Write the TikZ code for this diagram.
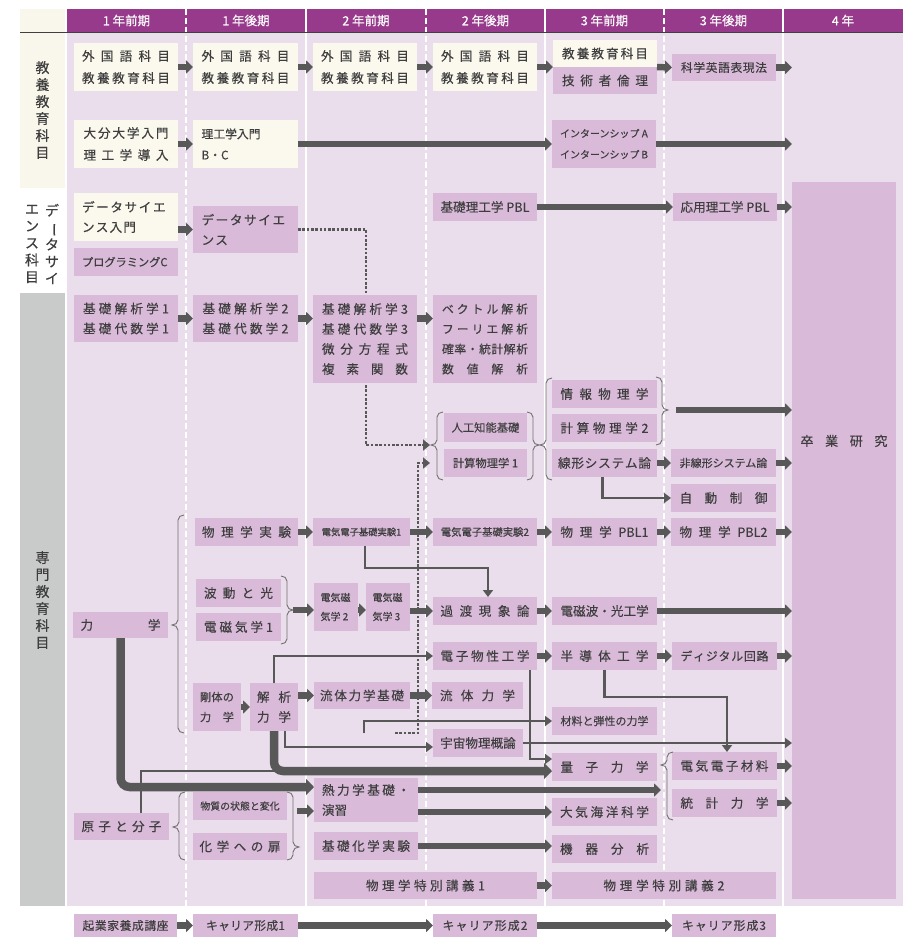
\documentclass[tikz,border=0pt]{standalone}
\usepackage{fontspec}
\setmainfont{Noto Sans CJK JP}[FakeBold=0.35]
\usetikzlibrary{arrows.meta}
\pgfdeclarelayer{back}
\pgfsetlayers{back,main}

\definecolor{hdr}{RGB}{152,58,140}
\definecolor{lav}{RGB}{234,221,236}
\definecolor{mauve}{RGB}{217,187,217}
\definecolor{cream}{RGB}{251,248,238}
\definecolor{labbeige}{RGB}{249,246,236}
\definecolor{labgray}{RGB}{201,202,202}
\definecolor{arr}{RGB}{88,88,88}
\definecolor{txt}{RGB}{62,62,62}

\ExplSyntaxOn
% spread the characters of #2 evenly over a box of width #1
\NewDocumentCommand\spreadto{m m}{
  \hbox_to_wd:nn {#1}{
    \bool_set_true:N \l_tmpa_bool
    \tl_map_inline:nn {#2}{
      \bool_if:NF \l_tmpa_bool {\hfil}
      \bool_set_false:N \l_tmpa_bool
      ##1
    }
  }
}
% characters of #2 with a fixed extra gap #1 between them
\NewDocumentCommand\tracked{O{2pt} m}{
  \bool_set_true:N \l_tmpa_bool
  \tl_map_inline:nn {#2}{
    \bool_if:NF \l_tmpa_bool {\kern #1}
    \bool_set_false:N \l_tmpa_bool
    ##1
  }
}
\ExplSyntaxOff
% a left-aligned line of fixed width
\newcommand\lftline[2]{\hbox to #1{#2\hfil}}

% course box: [style]{name}{x1}{y1}{x2}{y2}{text}
\newcommand\course[7][]{%
  \node[box,#1,minimum width={(#5-#3)*1pt},minimum height={(#6-#4)*1pt}]
    (#2) at ({(#3+#5)/2},{(#4+#6)/2}) {#7};}

% curly braces: {x of body}{top}{tip}{bottom}
\newcommand\BrL[4]{\draw[brc] (#1+6,#2) to[out=180,in=90] (#1,#2+5) -- (#1,#3-5)
  to[out=-90,in=0] (#1-6,#3) to[out=0,in=90] (#1,#3+5) -- (#1,#4-5)
  to[out=-90,in=180] (#1+6,#4);}
\newcommand\BrR[4]{\draw[brc] (#1-6,#2) to[out=0,in=90] (#1,#2+5) -- (#1,#3-5)
  to[out=-90,in=180] (#1+6,#3) to[out=180,in=90] (#1,#3+5) -- (#1,#4-5)
  to[out=-90,in=0] (#1-6,#4);}

\tikzset{
  fs/.style={font=\fontsize{#1}{20}\selectfont},
  fs2/.style 2 args={font=\fontsize{#1}{#2}\selectfont},
  box/.style={fill=mauve, inner sep=0pt, outer sep=0pt, text=txt, align=center, fs=12.6},
  cb/.style={fill=cream},
  lab/.style={font=\fontsize{14}{17}\selectfont, text=txt, align=center, inner sep=0pt},
  hd/.style={font=\fontsize{12.5}{14}\selectfont, text=white, inner sep=0pt},
  blk/.style={draw=arr, line width=6.5pt, -{Triangle[length=7pt,width=13pt]}},
  thk/.style={draw=arr, line width=8.5pt, rounded corners=9pt, -{Triangle[length=8pt,width=16pt]}},
  tline/.style={draw=arr, line width=2.6pt, -{Triangle[length=7pt,width=10pt]}},
  tplain/.style={draw=arr, line width=2.6pt},
  dotline/.style={draw=arr, line width=2.6pt, dash pattern=on 2.6pt off 1.7pt, -{Triangle[length=7pt,width=11pt]}},
  brc/.style={draw=arr!85, line width=0.9pt},
}

\begin{document}
\begin{tikzpicture}[x=1pt,y=-1pt]
\useasboundingbox (0,0) rectangle (921,938);

% ---- column headers
\node[hd] (h1) at (126.5,20.5) {1 年前期};
\node[hd] (h2) at (246,20.5) {1 年後期};
\node[hd] (h3) at (366,20.5) {2 年前期};
\node[hd] (h4) at (485.5,20.5) {2 年後期};
\node[hd] (h5) at (604.5,20.5) {3 年前期};
\node[hd] (h6) at (723.5,20.5) {3 年後期};
\node[hd] (h7) at (843,20.5) {4 年};

% ---- category labels
\node[lab] (labA) at (42.5,110) {教\\養\\教\\育\\科\\目};
\node[lab] (labB1) at (52,244) {デ\\\rotatebox[origin=c]{-90}{ー}\\タ\\サ\\イ};
\node[lab] (labB2) at (32,244) {エ\\ン\\ス\\科\\目};
\node[lab] (labC) at (42.5,600) {専\\門\\教\\育\\科\\目};

% ---- general education
\course[cb,fs2={12.6}{22}]{k1}{74}{43}{178}{91}{\spreadto{88pt}{外国語科目}\\\spreadto{88pt}{教養教育科目}}
\course[cb,fs2={12.6}{22}]{k2}{193}{43}{298}{91}{\spreadto{88pt}{外国語科目}\\\spreadto{88pt}{教養教育科目}}
\course[cb,fs2={12.6}{22}]{k3}{313}{43}{417}{91}{\spreadto{88pt}{外国語科目}\\\spreadto{88pt}{教養教育科目}}
\course[cb,fs2={12.6}{22}]{k4}{433}{43}{537}{91}{\spreadto{88pt}{外国語科目}\\\spreadto{88pt}{教養教育科目}}
\course[cb]{k5a}{553}{40}{657}{67}{\spreadto{86pt}{教養教育科目}}
\course{k5b}{553}{67}{657}{94}{\spreadto{86pt}{技術者倫理}}
\course[fs=11.8]{eigo}{672}{54}{776}{81}{\spreadto{86pt}{科学英語表現法}}

\course[cb,fs2={12.6}{22}]{r1}{74}{120}{178}{168}{\spreadto{85pt}{大分大学入門}\\\spreadto{85pt}{理工学導入}}
\course[cb,fs2={11.8}{21}]{r2}{193}{120}{298}{168}{\lftline{88pt}{理工学入門}\\\lftline{88pt}{B・C}}
\course[fs2={10}{21}]{intern}{552}{120}{656}{168}{\lftline{88pt}{インターンシップ A}\\\lftline{88pt}{インターンシップ B}}

% ---- data science
\course[cb,fs2={12.6}{20}]{ds1}{74}{193}{178}{241}{\lftline{88pt}{\tracked[1.6pt]{データサイエ}}\\\lftline{88pt}{\tracked[1.2pt]{ンス入門}}}
\course[fs=11.2]{prog}{74}{248}{178}{276}{\lftline{88pt}{プログラミングC}}
\course[fs2={12.6}{20}]{ds2}{193}{206}{298}{253}{\lftline{88pt}{\tracked[1.6pt]{データサイエ}}\\\lftline{88pt}{\tracked[1.2pt]{ンス}}}
\course{pbl0}{433}{193}{537}{221}{基礎理工学 PBL}
\course{pbl3}{673}{193}{777}{221}{応用理工学 PBL}
\course{sotsu}{792}{182}{896}{899}{}
\node[fs=13, text=txt, inner sep=0pt] (sotsuT) at (844,441) {\spreadto{87pt}{卒業研究}};

% ---- mathematics
\course{m1}{74}{295}{178}{342}{\spreadto{86pt}{基礎解析学1}\\\spreadto{86pt}{基礎代数学1}}
\course{m2}{193}{295}{298}{342}{\spreadto{86pt}{基礎解析学2}\\\spreadto{86pt}{基礎代数学2}}
\course{m3}{313}{295}{417}{383}{\spreadto{86pt}{基礎解析学3}\\\spreadto{86pt}{基礎代数学3}\\\spreadto{86pt}{微分方程式}\\\spreadto{86pt}{複素関数}}
\course[fs=11.8]{m4}{433}{295}{537}{383}{\spreadto{86pt}{ベクトル解析}\\\spreadto{86pt}{フーリエ解析}\\\spreadto{86pt}{確率・統計解析}\\\spreadto{86pt}{数値解析}}

\course[fs=11.3]{ai}{444}{413}{527}{442}{人工知能基礎}
\course[fs=11.3]{cp1}{444}{449}{527}{477}{計算物理学 1}
\course{info}{552}{380}{657}{408}{\spreadto{88pt}{情報物理学}}
\course{cp2}{552}{414}{657}{442}{\spreadto{88pt}{計算物理学2}}
\course{senkei}{552}{449}{657}{477}{\spreadto{93pt}{線形システム論}}
\course[fs=11]{hisen}{671}{449}{776}{477}{非線形システム論}
\course{jido}{671}{484}{776}{512}{\spreadto{88pt}{自動制御}}

% ---- physics and electronics
\course{jikken}{195}{518}{298}{546}{\spreadto{89pt}{物理学実験}}
\course[fs=9.3]{dk1}{313}{518}{410}{546}{電気電子基礎実験1}
\course[fs=10.3]{dk2}{433}{518}{537}{546}{電気電子基礎実験2}
\course{pb1}{552}{518}{657}{546}{\spreadto{88pt}{物理学{PBL1}}}
\course{pb2}{671}{518}{776}{546}{\spreadto{88pt}{物理学{PBL2}}}

\course{hado}{196}{579}{281}{607}{\spreadto{69pt}{波動と光}}
\course{em1}{196}{613}{281}{641}{\spreadto{69pt}{電磁気学1}}
\course[fs2={10}{19}]{em2}{314}{583}{358}{631}{\lftline{31pt}{電気磁}\\\lftline{31pt}{気学 2}}
\course[fs2={10}{19}]{em3}{366}{583}{410}{631}{\lftline{31pt}{電気磁}\\\lftline{31pt}{気学 3}}
\course{kato}{433}{597}{537}{625}{\spreadto{89pt}{過渡現象論}}
\course{denjiha}{552}{597}{657}{625}{\spreadto{88pt}{電磁波・光工学}}
\course{riki}{73}{612}{168}{638}{\spreadto{80pt}{力学}}

\course[fs2={11.2}{20}]{goutai}{193}{683}{241}{731}{\spreadto{34pt}{剛体の}\\\spreadto{34pt}{力学}}
\course[fs2={12.6}{20}]{kaiseki}{250}{683}{298}{731}{\spreadto{34pt}{解析}\\\spreadto{34pt}{力学}}
\course{ryuk}{314}{682}{410}{709}{\spreadto{84pt}{流体力学基礎}}
\course{ryutai}{432}{682}{523}{709}{\spreadto{75pt}{流体力学}}
\course{denshi}{433}{642}{537}{670}{\spreadto{89pt}{電子物性工学}}
\course{handou}{552}{642}{657}{670}{\spreadto{88pt}{半導体工学}}
\course[fs=11.8]{digital}{672}{642}{777}{670}{\spreadto{88pt}{ディジタル回路}}
\course[fs=11]{zairyo}{552}{707}{657}{735}{材料と弾性の力学}
\course{uchu}{433}{729}{523}{757}{宇宙物理概論}
\course{ryoshi}{552}{753}{657}{781}{\spreadto{88pt}{量子力学}}

\course{netsu}{314}{778}{418}{822}{\spreadto{88pt}{熱力学基礎・}\\\lftline{88pt}{演習}}
\course{taiki}{552}{798}{657}{826}{\spreadto{89pt}{大気海洋科学}}
\course{kiki}{552}{835}{657}{863}{\spreadto{89pt}{機器分析}}
\course{emat}{672}{752}{777}{780}{\spreadto{88pt}{電気電子材料}}
\course{toukei}{672}{789}{777}{817}{\spreadto{88pt}{統計力学}}
\course{genshi}{74}{813}{169}{840}{\spreadto{80pt}{原子と分子}}
\course[fs=9.9]{busshitsu}{193}{792}{287}{820}{物質の状態と変化}
\course{kagaku}{193}{833}{287}{860}{\spreadto{81pt}{化学への扉}}
\course{kiso}{314}{832}{418}{860}{\spreadto{88pt}{基礎化学実験}}
\course{tk1}{314}{872}{537}{899}{\spreadto{119pt}{物理学特別講義1}}
\course{tk2}{552}{872}{776}{899}{\spreadto{121pt}{物理学特別講義2}}

% ---- career courses
\course[fs=11.8]{kigyo}{74}{914}{177}{937}{\spreadto{86pt}{起業家養成講座}}
\course[fs=11.8]{c1}{193}{914}{298}{937}{\spreadto{79pt}{キャリア形成1}}
\course[fs=11.8]{c2}{433}{914}{537}{937}{\spreadto{85pt}{キャリア形成2}}
\course[fs=11.8]{c3}{672}{914}{776}{937}{\spreadto{84pt}{キャリア形成3}}

% ---- connector end points
\coordinate (aiTip) at (430,445);
\coordinate (cpTip) at (430,463);
\coordinate (d2s) at (395,733);
\coordinate (grpR) at (676,410);
\coordinate (emR) at (293,610);
\coordinate (chemR) at (297,811);
\coordinate (br7in) at (661,790);
\coordinate (zs) at (364,733);
\coordinate (jn) at (274,771);

% ---- braces
\BrL{178}{515}{625}{733}
\BrR{287}{576}{610}{644}
\BrL{437}{412}{445}{480}
\BrR{533}{412}{445}{480}
\BrL{546}{378}{445}{480}
\BrR{662}{377}{410}{445}
\BrL{667}{752}{765}{820}
\BrL{179}{792}{827}{860}
\BrR{293}{792}{847}{860}

% ---- connectors
\draw[blk] (k1.east) -- (k2.west);
\draw[blk] (k2.east) -- (k3.west);
\draw[blk] (k3.east) -- (k4.west);
\draw[blk] (k4.east) -- (k5a.south west);
\draw[blk] (k5a.south east) -- (eigo.west);
\draw[blk] (eigo.east) -- (eigo.east -| sotsu.west);
\draw[blk] (r1.east) -- (r2.west);
\draw[blk] (r2.east) -- (intern.west);
\draw[blk] (intern.east) -- (intern.east -| sotsu.west);
\draw[blk] (ds1.east |- ds2.west) -- (ds2.west);
\draw[blk] (pbl0.east) -- (pbl3.west);
\draw[blk] (pbl3.east) -- (pbl3.east -| sotsu.west);
\draw[blk] (m1.east) -- (m2.west);
\draw[blk] (m2.east) -- (m2.east -| m3.west);
\draw[blk] (m3.east |- m2.east) -- (m4.west |- m2.east);
\draw[blk] (grpR) -- (grpR -| sotsu.west);
\draw[blk] (senkei.east) -- (hisen.west);
\draw[blk] (hisen.east) -- (hisen.east -| sotsu.west);
\draw[tline] ([xshift=-2pt]senkei.south) |- (jido.west);
\draw[blk] (jikken.east) -- (dk1.west);
\draw[blk] (dk1.east) -- (dk2.west);
\draw[blk] (dk2.east) -- (pb1.west);
\draw[blk] (pb1.east) -- (pb2.west);
\draw[blk] (pb2.east) -- (pb2.east -| sotsu.west);
\draw[tline] ([xshift=3.5pt]dk1.south) -- ++(0,22) -| ([xshift=3pt]kato.north);
\draw[blk] (emR) -- (emR -| em2.west);
\draw[blk] ([yshift=-3pt]em2.east) -- ([yshift=-3pt]em3.west);
\draw[blk] (em3.east |- kato.west) -- (kato.west);
\draw[blk] (kato.east) -- (denjiha.west);
\draw[blk] (denjiha.east) -- (denjiha.east -| sotsu.west);
\draw[blk] (goutai.east) -- (goutai.east -| kaiseki.west);
\draw[blk] (kaiseki.east |- ryuk.west) -- (ryuk.west);
\draw[blk] (ryuk.east) -- (ryutai.west);
\draw[tline] (kaiseki.north) |- (denshi.west);
\draw[blk] (denshi.east) -- (handou.west);
\draw[blk] (handou.east) -- (digital.west);
\draw[blk] (digital.east) -- (digital.east -| sotsu.west);
\draw[tline] (handou.south) -- ++(0,27) -| ([xshift=2.5pt]emat.north);
\draw[tline] (zs) |- (zairyo.west);
\draw[tline] ([xshift=11pt]kaiseki.south) |- ([yshift=-4pt]uchu.west);
\draw[tline] (uchu.east) -- (uchu.east -| sotsu.west);
\draw[tline] ([xshift=45pt]denshi.south) |- ([yshift=8pt]ryoshi.west);
\draw[tplain] ([xshift=19.5pt]genshi.north) |- (jn);
\draw[thk] (kaiseki.south) |- ([yshift=-4pt]ryoshi.west);
\draw[thk] (riki.south) |- ([yshift=13pt]netsu.west);
\draw[blk] (chemR) -- (chemR -| netsu.west);
\draw[blk] ([yshift=10pt]netsu.east) -- (br7in);
\draw[blk] (netsu.east |- taiki.west) -- (taiki.west);
\draw[blk] (kiso.east) -- (kiso.east -| kiki.west);
\draw[blk] (emat.east) -- (emat.east -| sotsu.west);
\draw[blk] (toukei.east) -- (toukei.east -| sotsu.west);
\draw[blk] (tk1.east) -- (tk2.west);
\draw[blk] (kigyo.east) -- (c1.west);
\draw[blk] (c1.east) -- (c2.west);
\draw[blk] (c2.east) -- (c3.west);

% ---- backgrounds and dotted links behind the boxes
\begin{pgfonlayer}{back}
  \fill[labbeige] (20,9) rectangle (65,188);
  \fill[labgray] (20,293) rectangle (65,906);
  \fill[lav] (67,32) rectangle (903,906);
  \fill[hdr] (67,9) rectangle (903,32);
  \foreach \x in {306,545,783} \draw[white, line width=2pt] (\x,9) -- (\x,906);
  \foreach \x in {186,426,664} \draw[white, line width=1.2pt, dash pattern=on 6pt off 3pt] (\x,9) -- (\x,906);
  \draw[line width=1pt, draw=black!75] (20,32) -- (903,32);
  \draw[dotline] (ds2.east) -- ++(68,0) |- (aiTip);
  \draw[dotline] (d2s) -- ++(23,0) |- (cpTip);
\end{pgfonlayer}
\end{tikzpicture}
\end{document}
